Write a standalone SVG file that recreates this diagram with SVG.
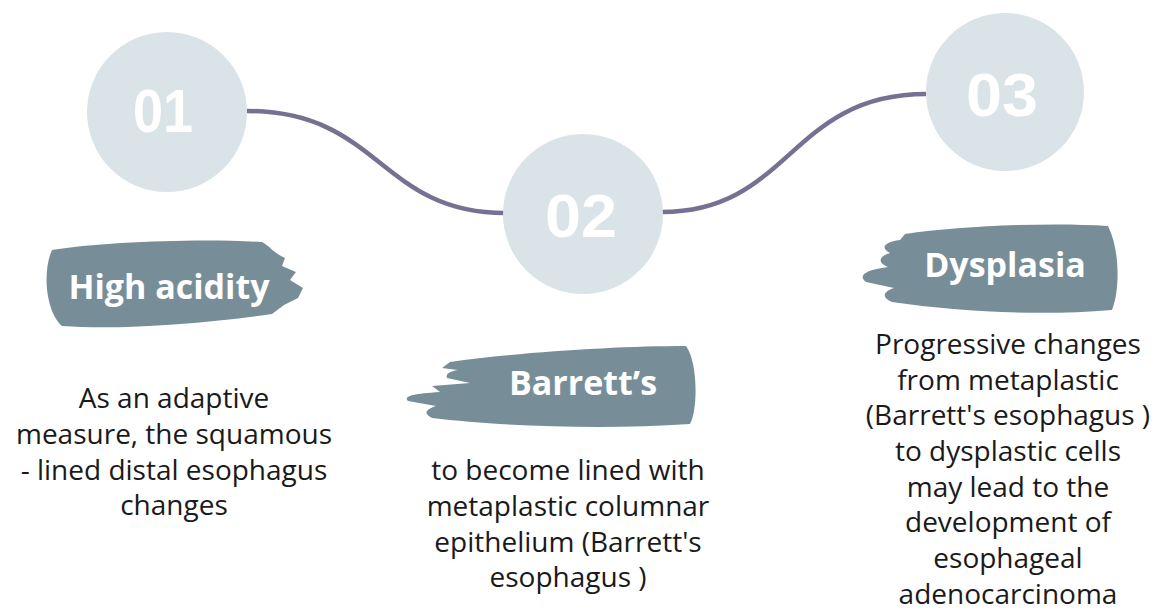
<svg xmlns="http://www.w3.org/2000/svg" width="1164" height="611" viewBox="0 0 1164 611">
<style>
.circ{fill:#dae3e8}
.num{font-family:"Liberation Sans",Arial,sans-serif;font-weight:bold;font-size:62px;fill:#ffffff;text-anchor:middle}
.brush{fill:#778e99}
.lbl{font-family:"Open Sans","Noto Sans",sans-serif;font-weight:bold;font-size:34px;fill:#ffffff;text-anchor:middle}
.body{font-family:"Open Sans","Noto Sans",sans-serif;font-size:28px;fill:#1a1a1a;text-anchor:middle}
.conn{fill:none;stroke:#777093;stroke-width:4.5}
</style>
<rect width="1164" height="611" fill="#ffffff"/>
<g id="connectors">
<path class="conn" d="M247,111 C380,111 380,213 505,213"/>
<path class="conn" d="M662,212 C790,212 790,94 926,94"/>
</g>
<g id="node-01">
<circle class="circ" cx="167" cy="112" r="80"/>
<text class="num" x="163" y="132" textLength="60" lengthAdjust="spacingAndGlyphs">01</text>
</g>
<g id="node-02">
<circle class="circ" cx="583" cy="214" r="80"/>
<text class="num" x="581" y="237" textLength="72" lengthAdjust="spacingAndGlyphs">02</text>
</g>
<g id="node-03">
<circle class="circ" cx="1005" cy="92" r="79"/>
<text class="num" x="1002" y="116" textLength="72" lengthAdjust="spacingAndGlyphs">03</text>
</g>
<g id="label-high-acidity">
<path class="brush" d="M52,250 C100,242 200,238 262,242 C270,246 272,252 285,258 L282,266 L296,272 L290,280 L303,288 L298,298 L284,305 L272,314 C200,324 120,330 62,326 C46,312 42,272 52,250 Z"/>
<text class="lbl" x="169" y="299">High acidity</text>
</g>
<g id="label-barretts">
<path class="brush" d="M450,362 C520,352 620,346 686,346 C698,362 698,410 690,424 C600,430 500,426 432,418 C424,414 424,410 436,406 L408,401 C404,397 408,394 440,392 L432,386 L470,383 L447,378 C445,373 452,371 458,370 L442,368 Z"/>
<text class="lbl" x="583" y="395">Barrett’s</text>
</g>
<g id="label-dysplasia">
<path class="brush" d="M905,234 C960,226 1050,222 1108,226 C1120,250 1120,290 1112,310 C1040,316 960,312 892,302 C882,298 882,292 894,288 L866,282 C858,276 864,270 888,267 C876,262 880,256 890,253 C880,248 884,242 900,240 Z"/>
<text class="lbl" x="1005" y="277">Dysplasia</text>
</g>
<g id="text-1">
<text class="body" x="174" y="408">As an adaptive</text>
<text class="body" x="174" y="444">measure, the squamous</text>
<text class="body" x="174" y="480">- lined distal esophagus</text>
<text class="body" x="174" y="515">changes</text>
</g>
<g id="text-2">
<text class="body" x="568" y="480">to become lined with</text>
<text class="body" x="568" y="516">metaplastic columnar</text>
<text class="body" x="568" y="552">epithelium (Barrett's</text>
<text class="body" x="568" y="587">esophagus )</text>
</g>
<g id="text-3">
<text class="body" x="1008" y="354">Progressive changes</text>
<text class="body" x="1008" y="390">from metaplastic</text>
<text class="body" x="1008" y="425">(Barrett's esophagus )</text>
<text class="body" x="1008" y="461">to dysplastic cells</text>
<text class="body" x="1008" y="497">may lead to the</text>
<text class="body" x="1008" y="532">development of</text>
<text class="body" x="1008" y="568">esophageal</text>
<text class="body" x="1008" y="604">adenocarcinoma</text>
</g>
</svg>
